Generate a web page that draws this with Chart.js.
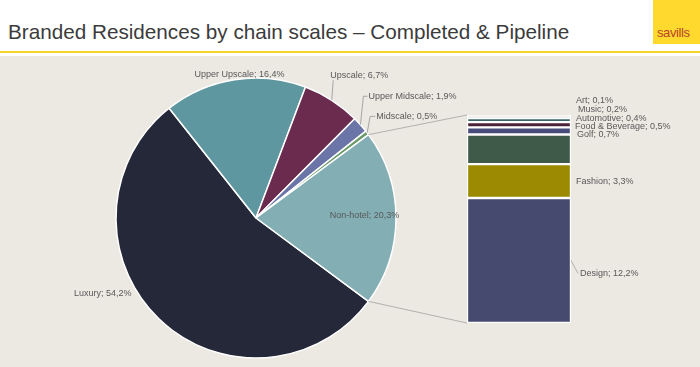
<!DOCTYPE html>
<html>
<head>
<meta charset="utf-8">
<script src="https://cdn.jsdelivr.net/npm/chart.js@4.4.1/dist/chart.umd.min.js"></script>
<style>
  html, body { margin: 0; padding: 0; }
  body { width: 700px; height: 367px; position: relative; overflow: hidden; background: #fff;
         font-family: "Liberation Sans", Arial, sans-serif; }
  #title { position: absolute; left: 8px; top: 22px; font-size: 20.7px; line-height: 1; color: #3b3b3b; white-space: nowrap; }
  #logo { position: absolute; left: 653px; top: 0; width: 47px; height: 44px; background: #ffd92e; }
  #logo span { position: absolute; left: 4px; bottom: 4px; font-size: 13px; color: #b8442a; letter-spacing: -0.4px; }
  #rule { position: absolute; left: 0; top: 51px; width: 700px; height: 2px; background: #f5d52a; }
  #panel { position: absolute; left: 0; top: 56px; width: 700px; height: 311px; background: #ece8e2; }
  canvas { position: absolute; left: 0; top: 0; }
</style>
</head>
<body>
<div id="title">Branded Residences by chain scales – Completed &amp; Pipeline</div>
<div id="logo"><span>savills</span></div>
<div id="rule"></div>
<div id="panel"></div>
<canvas id="pie" width="700" height="367"></canvas>
<canvas id="bar" width="700" height="367"></canvas>
<script>
// chain scales (pie)
const scaleNames = ['Luxury', 'Upper Upscale', 'Upscale', 'Upper Midscale', 'Midscale', 'Non-hotel'];
const scaleShares = [54.2, 16.4, 6.7, 1.9, 0.5, 20.3];
const scaleColors = ['#252839', '#5f97a0', '#6b2b4f', '#6b75a8', '#6a9a68', '#82aeb4'];

// non-hotel breakdown (bar), bottom to top
const themeNames = ['Design', 'Fashion', '', 'Golf', 'Food & Beverage', 'Automotive', 'Music', 'Art'];
const themeShares = [12.2, 3.3, 2.9, 0.7, 0.5, 0.4, 0.2, 0.1];
const themeColors = ['#464a6f', '#9b8a02', '#3f5a49', '#474b7a', '#4c2239', '#3c6567', '#dfe7e5', '#f7f6f2'];

const fmt = v => v.toFixed(1).replace('.', ',') + '%';
const labelFont = '9px "Liberation Sans", Arial, sans-serif';
const labelColor = '#595959';

// label placement relative to the slice edge
const pieLabelStyle = [
  { r: 1, dx: -27, dy: -25, align: 'right', leader: false },
  { r: 1, dx: 5, dy: -5, align: 'center', leader: false },
  { r: 1, dx: -1.5, dy: -25, align: 'left', leader: true },
  { r: 1, dx: 8, dy: -28.5, align: 'left', leader: true },
  { r: 1, dx: 9, dy: -16.5, align: 'left', leader: true },
  { r: 0.76, dx: 2, dy: -2, align: 'center', leader: false }
];
const barLabelStyle = [
  { dx: 9, dy: 13, leader: true },
  { dx: 5, dy: 0 },
  null,
  { dx: 6, dy: 3.5 },
  { dx: 4, dy: 1.5 },
  { dx: 5, dy: -2 },
  { dx: 7, dy: -8 },
  { dx: 5, dy: -14.5 }
];

const pieLabels = {
  id: 'pieLabels',
  afterDatasetsDraw(chart) {
    const ctx = chart.ctx;
    const arcs = chart.getDatasetMeta(0).data;
    ctx.save();
    ctx.font = labelFont;
    ctx.fillStyle = labelColor;
    ctx.strokeStyle = '#8a8a8a';
    ctx.lineWidth = 0.7;
    ctx.textBaseline = 'middle';
    arcs.forEach((arc, i) => {
      const st = pieLabelStyle[i];
      const mid = (arc.startAngle + arc.endAngle) / 2;
      const ex = arc.x + Math.cos(mid) * arc.outerRadius * st.r;
      const ey = arc.y + Math.sin(mid) * arc.outerRadius * st.r;
      const tx = ex + st.dx, ty = ey + st.dy;
      if (st.leader) {
        ctx.beginPath();
        ctx.moveTo(ex, ey);
        if (st.dx > 4) {
          ctx.lineTo(ex + 3, ty);
          ctx.lineTo(tx - 1, ty);
        } else {
          ctx.lineTo(tx + 3, ty + 5);
        }
        ctx.stroke();
      }
      ctx.textAlign = st.align;
      ctx.fillText(scaleNames[i] + '; ' + fmt(scaleShares[i]), tx, ty);
    });
    ctx.restore();
  }
};

const pieChart = new Chart(document.getElementById('pie'), {
  type: 'pie',
  data: {
    labels: scaleNames,
    datasets: [{
      data: scaleShares,
      backgroundColor: scaleColors,
      borderColor: '#ffffff',
      borderWidth: 1.5,
      hoverOffset: 0
    }]
  },
  options: {
    responsive: false,
    animation: false,
    events: [],
    rotation: 90 + (scaleShares[5] / 100) * 180,
    radius: 140,
    layout: { padding: { left: 116, right: 304, top: 78, bottom: 9 } },
    plugins: { legend: { display: false }, tooltip: { enabled: false } }
  },
  plugins: [pieLabels]
});

const barLabels = {
  id: 'barLabels',
  afterDatasetsDraw(chart) {
    const ctx = chart.ctx;
    ctx.save();
    // connectors from the non-hotel slice to the bar
    const arc = pieChart.getDatasetMeta(0).data[5];
    const bottom = chart.getDatasetMeta(0).data[0];
    const top = chart.getDatasetMeta(themeShares.length - 1).data[0];
    const left = bottom.x - bottom.width / 2;
    ctx.strokeStyle = '#9a9a9a';
    ctx.lineWidth = 0.7;
    ctx.beginPath();
    ctx.moveTo(arc.x + Math.cos(arc.startAngle) * arc.outerRadius, arc.y + Math.sin(arc.startAngle) * arc.outerRadius);
    ctx.lineTo(left, top.y);
    ctx.moveTo(arc.x + Math.cos(arc.endAngle) * arc.outerRadius, arc.y + Math.sin(arc.endAngle) * arc.outerRadius);
    ctx.lineTo(left, bottom.base);
    ctx.stroke();

    ctx.font = labelFont;
    ctx.fillStyle = labelColor;
    ctx.textBaseline = 'middle';
    ctx.textAlign = 'left';
    themeNames.forEach((name, i) => {
      const st = barLabelStyle[i];
      if (!st) return;
      const el = chart.getDatasetMeta(i).data[0];
      const right = el.x + el.width / 2;
      const cy = (el.y + el.base) / 2;
      if (st.leader) {
        ctx.strokeStyle = '#9a9a9a';
        ctx.beginPath();
        ctx.moveTo(right, cy);
        ctx.lineTo(right + st.dx - 2, cy + st.dy);
        ctx.stroke();
      }
      ctx.fillText(name + '; ' + fmt(themeShares[i]), right + st.dx, cy + st.dy);
    });
    ctx.restore();
  }
};

new Chart(document.getElementById('bar'), {
  type: 'bar',
  data: {
    labels: ['Non-hotel'],
    datasets: themeShares.map((v, i) => ({
      label: themeNames[i],
      data: [v],
      backgroundColor: themeColors[i],
      borderColor: '#ffffff',
      borderWidth: 1.5,
      borderSkipped: false,
      barPercentage: 1,
      categoryPercentage: 1
    }))
  },
  options: {
    responsive: false,
    animation: false,
    events: [],
    layout: { padding: { left: 467, right: 129, top: 115, bottom: 44 } },
    scales: {
      x: { display: false, stacked: true },
      y: { display: false, stacked: true, min: 0, max: themeShares.reduce((a, b) => a + b, 0) }
    },
    plugins: { legend: { display: false }, tooltip: { enabled: false } }
  },
  plugins: [barLabels]
});
</script>
</body>
</html>
